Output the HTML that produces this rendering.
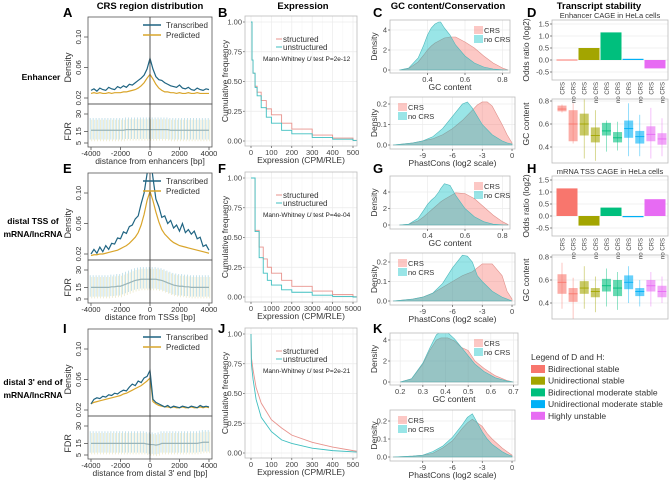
<!DOCTYPE html>
<html><head><meta charset="utf-8">
<style>
html,body{margin:0;padding:0;background:#fff;}
svg{display:block;font-family:"Liberation Sans",Arial,sans-serif;}
</style></head>
<body>
<svg id="fig" width="670" height="480" viewBox="0 0 670 480" xmlns="http://www.w3.org/2000/svg"></svg>
<script>
// ---------- data ----------
const distX = [-4000,-3800,-3600,-3400,-3200,-3000,-2800,-2600,-2400,-2200,-2000,-1800,-1600,-1400,-1200,-1000,-800,-600,-400,-200,0,200,400,600,800,1000,1200,1400,1600,1800,2000,2200,2400,2600,2800,3000,3200,3400,3600,3800,4000];
const A_trans = [0.030,0.032,0.029,0.033,0.031,0.030,0.034,0.032,0.031,0.035,0.033,0.036,0.034,0.038,0.037,0.040,0.043,0.046,0.050,0.058,0.072,0.058,0.048,0.044,0.043,0.040,0.038,0.036,0.035,0.034,0.037,0.033,0.032,0.034,0.031,0.030,0.033,0.031,0.030,0.032,0.031];
const A_pred = [0.026,0.027,0.026,0.027,0.026,0.026,0.027,0.026,0.027,0.027,0.027,0.028,0.028,0.029,0.030,0.031,0.033,0.036,0.040,0.046,0.051,0.045,0.038,0.033,0.030,0.028,0.028,0.027,0.027,0.026,0.027,0.026,0.026,0.027,0.026,0.026,0.027,0.026,0.026,0.026,0.026];
const E_trans = [0.020,0.026,0.021,0.029,0.023,0.031,0.026,0.034,0.033,0.041,0.040,0.049,0.047,0.056,0.058,0.066,0.070,0.086,0.100,0.125,0.150,0.120,0.092,0.082,0.068,0.070,0.060,0.064,0.054,0.058,0.050,0.060,0.048,0.052,0.046,0.050,0.040,0.042,0.030,0.032,0.025];
const E_pred = [0.018,0.019,0.019,0.020,0.020,0.021,0.022,0.023,0.024,0.025,0.027,0.029,0.031,0.034,0.038,0.042,0.048,0.058,0.072,0.090,0.102,0.090,0.075,0.062,0.052,0.046,0.042,0.038,0.035,0.033,0.031,0.030,0.029,0.028,0.027,0.026,0.025,0.024,0.023,0.022,0.021];
const I_trans = [0.028,0.034,0.036,0.035,0.038,0.037,0.040,0.039,0.042,0.041,0.044,0.046,0.045,0.050,0.054,0.052,0.058,0.056,0.062,0.064,0.072,0.034,0.030,0.028,0.026,0.024,0.026,0.023,0.025,0.024,0.023,0.025,0.024,0.023,0.025,0.024,0.023,0.026,0.024,0.025,0.024];
const I_pred = [0.028,0.030,0.031,0.032,0.033,0.034,0.035,0.036,0.037,0.038,0.039,0.041,0.042,0.044,0.046,0.048,0.050,0.052,0.055,0.058,0.062,0.031,0.028,0.026,0.025,0.024,0.024,0.023,0.024,0.023,0.023,0.024,0.023,0.023,0.024,0.023,0.023,0.024,0.023,0.024,0.023];
const A_fdr = [16,16,16,16,16,16,16,16,16,16,16,16,16.5,16.5,16.5,16.5,16.5,16.5,16.5,16.5,16.5,16.5,16.5,16.5,16.5,16.5,16.5,16,16,16,16,16,16,16,16,16,16,16,16,16,16];
const E_fdr = [15,15,15,15,15,15,15,15.5,15.5,16,16,17,18,19,20,21,21.5,22,22,22,22,22,22,21.5,21,20,19,18,17,16.5,16,16,15.5,15.5,15,15,15,15,15,15,15];
const I_fdr = [15,15,15,15,15,15,15,15,15,15,15,15,15,15,15,15,15,15,15,14.5,14,14,13.5,14,15,15,15,15,15,15,15,15,15,15,15,15,15,15.5,16,16,16];
const distTicks = [-4000,-2000,0,2000,4000];

const B_x = [0,5,10,20,30,50,75,100,150,200,300,400,500,520];
const B_unstr = [1.0,0.68,0.57,0.45,0.38,0.28,0.20,0.15,0.09,0.06,0.03,0.015,0.005,0.004];
const B_struc = [1.0,0.68,0.57,0.46,0.41,0.34,0.27,0.22,0.15,0.10,0.05,0.025,0.006,0.005];
const F_x = [0,200,400,600,800,1000,1500,2000,3000,4000,5000,5200];
const F_unstr = [1.0,0.55,0.33,0.20,0.14,0.10,0.06,0.04,0.015,0.005,0.0,0.0];
const F_struc = [1.0,0.56,0.42,0.32,0.25,0.20,0.14,0.09,0.05,0.02,0.003,0.0];
const J_x = [0,2,10,25,50,100,150,200,300,400,500,520];
const J_unstr = [1.0,0.75,0.62,0.45,0.30,0.18,0.11,0.08,0.04,0.02,0.01,0.008];
const J_struc = [1.0,0.80,0.70,0.55,0.42,0.28,0.21,0.15,0.09,0.05,0.02,0.015];

const gcX = [0.25,0.3,0.35,0.38,0.4,0.42,0.44,0.46,0.47,0.49,0.52,0.55,0.6,0.65,0.7,0.75,0.8,0.83];
const C_gc_nocrs = [0,0.2,1.2,2.5,3.5,4.2,4.6,4.8,4.8,4.2,3.5,2.5,1.4,0.7,0.3,0.1,0.02,0];
const C_gc_crs = [0,0.15,0.8,1.5,2.0,2.4,2.7,2.9,3.0,3.2,3.3,3.3,2.8,2.2,1.4,0.7,0.2,0];
const G_gc_nocrs = [0,0.1,0.8,1.8,2.5,3.0,3.4,4.0,4.4,5.0,4.8,3.6,2.0,1.0,0.4,0.1,0.02,0];
const G_gc_crs = [0,0.1,0.5,1.0,1.4,1.8,2.2,2.6,2.8,3.1,3.5,3.9,3.8,3.2,2.2,1.2,0.4,0.05];
const kX = [0.2,0.25,0.3,0.33,0.36,0.38,0.41,0.44,0.47,0.5,0.53,0.57,0.62,0.67,0.7];
const K_gc_nocrs = [0,0.3,1.8,3.2,4.5,4.8,4.7,4.1,3.3,2.5,1.7,1.0,0.4,0.1,0];
const K_gc_crs = [0,0.3,1.7,3.0,4.0,4.2,4.2,3.9,3.3,3.0,2.0,1.3,0.6,0.15,0];
const pcX = [-12,-10,-9,-8,-7,-6,-5,-4.5,-4,-3.5,-3,-2.5,-2,-1,-0.5,0];
const C_pc_nocrs = [0,0.01,0.02,0.04,0.08,0.14,0.20,0.21,0.18,0.14,0.10,0.075,0.05,0.02,0.01,0.005];
const C_pc_crs = [0,0.01,0.02,0.03,0.05,0.08,0.12,0.145,0.17,0.195,0.21,0.21,0.19,0.10,0.05,0.01];
const G_pc_nocrs = [0,0.01,0.02,0.04,0.09,0.17,0.235,0.23,0.20,0.13,0.10,0.075,0.05,0.02,0.01,0];
const G_pc_crs = [0,0.01,0.02,0.04,0.07,0.10,0.13,0.14,0.15,0.17,0.19,0.19,0.19,0.13,0.05,0.01];
const K_pc_nocrs = [0,0.005,0.01,0.03,0.06,0.11,0.18,0.22,0.24,0.19,0.14,0.10,0.07,0.03,0.015,0.005];
const K_pc_crs = [0,0.005,0.01,0.02,0.05,0.09,0.16,0.19,0.21,0.19,0.17,0.13,0.10,0.05,0.03,0.01];

const stabCats = ["Bidirectional stable","Unidirectional stable","Bidirectional moderate stable","Unidirectional moderate stable","Highly unstable"];
const stabColors = ["#F8766D","#A3A500","#00BF7D","#00B0F6","#E76BF3"];
const D_odds = [0.02,0.5,1.15,0.05,-0.35];
const H_odds = [1.15,-0.4,0.35,-0.05,0.7];
const boxLabels = ["CRS","no CRS","CRS","no CRS","CRS","no CRS","CRS","no CRS","CRS","no CRS"];
const D_med = [0.73,0.60,0.60,0.50,0.54,0.48,0.56,0.49,0.51,0.47];
const D_q1 = [0.71,0.45,0.50,0.44,0.50,0.44,0.48,0.43,0.45,0.42];
const D_q3 = [0.76,0.72,0.69,0.57,0.61,0.53,0.63,0.54,0.58,0.52];
const D_lo = [0.70,0.43,0.30,0.28,0.36,0.37,0.32,0.32,0.30,0.32];
const D_hi = [0.77,0.78,0.82,0.72,0.63,0.62,0.78,0.68,0.74,0.65];
const H_med = [0.58,0.48,0.53,0.50,0.55,0.53,0.58,0.50,0.55,0.50];
const H_q1 = [0.48,0.41,0.48,0.45,0.50,0.46,0.52,0.46,0.50,0.45];
const H_q3 = [0.65,0.53,0.59,0.53,0.61,0.60,0.64,0.53,0.60,0.55];
const H_lo = [0.35,0.25,0.35,0.32,0.37,0.34,0.40,0.37,0.37,0.40];
const H_hi = [0.75,0.62,0.72,0.63,0.70,0.67,0.72,0.60,0.67,0.63];

// ---------- helpers ----------
const NS = "http://www.w3.org/2000/svg";
const fig = document.getElementById("fig");
function mk(tag, attrs, parent){
  const e = document.createElementNS(NS, tag);
  for (const k in attrs) e.setAttribute(k, attrs[k]);
  (parent || fig).appendChild(e);
  return e;
}
function txt(s, x, y, size, opts, name){
  opts = opts || {};
  const a = {x:x, y:y, "font-size":size, fill:opts.fill||"#000"};
  if (opts.anchor) a["text-anchor"] = opts.anchor;
  if (opts.bold) a["font-weight"] = "bold";
  if (opts.rot) a.transform = "rotate(-90 " + x + " " + y + ")";
  const t = mk("text", a, opts.parent);
  t.textContent = s;
  
  
  return t;
}
function line(x1,y1,x2,y2,stroke,w,name,parent){
  const l = mk("line",{x1:x1,y1:y1,x2:x2,y2:y2,stroke:stroke,"stroke-width":w||1},parent);
  
  
  return l;
}
function rect(x,y,w,h,fill,stroke,name,parent,extra){
  const a = {x:x,y:y,width:w,height:h,fill:fill||"none"};
  if (stroke) { a.stroke = stroke; a["stroke-width"] = 0.8; }
  if (extra) for (const k in extra) a[k] = extra[k];
  const r = mk("rect", a, parent);
  
  
  return r;
}
function lin(d0,d1,r0,r1){ return v => r0 + (v-d0)*(r1-r0)/(d1-d0); }
let clipN = 0;
function clipGroup(x,y,w,h){
  const id = "c" + (clipN++);
  const cp = mk("clipPath",{id:id});
  mk("rect",{x:x,y:y,width:w,height:h},cp);
  return mk("g",{"clip-path":"url(#"+id+")"});
}

// ---------- titles / row labels ----------
txt("CRS region distribution",150,9,9.5,{anchor:"middle",bold:true},"column-title-crs");
txt("Expression",303,9,9.5,{anchor:"middle",bold:true},"column-title-expression");
txt("GC content/Conservation",448,9,9.5,{anchor:"middle",bold:true},"column-title-gc");
txt("Transcript stability",599,9,9.5,{anchor:"middle",bold:true},"column-title-stability");
txt("Enhancer",41,80,8.5,{anchor:"middle",bold:true},"row-label-enhancer");
txt("distal TSS of",33,224,8.5,{anchor:"middle",bold:true},"row-label-tss");
txt("mRNA/lncRNA",33,237,8.5,{anchor:"middle",bold:true},"row-label-tss-2");
txt("distal 3' end of",33,385,8.5,{anchor:"middle",bold:true},"row-label-3end");
txt("mRNA/lncRNA",33,398,8.5,{anchor:"middle",bold:true},"row-label-3end-2");
[["A",63,17],["B",218,17],["C",373,17],["D",527,17],["E",63,173],["F",218,173],["G",373,173],["H",527,173],["I",63,333],["J",218,333],["K",373,333]].forEach(p=>{
  txt(p[0],p[1],p[2],13,{bold:true},"panel-letter-"+p[0].toLowerCase());
});

// ---------- density/FDR panels (A,E,I) ----------
function distPanel(oy, trans, pred, fdr, xtitle){
  const x0=88, x1=212, yt=17+oy, ym=104+oy, yb=147+oy;
  const xs = lin(-4000,4000,91,209);
  const yD = lin(0.02,0.10,98+oy,37+oy);
  const yF = lin(5,30,143+oy,114+oy);
  const gF = clipGroup(x0,ym,x1-x0,yb-ym);
  distX.forEach((d,i)=>{
    line(xs(d)-0.8,yF(fdr[i]+10.5),xs(d)-0.8,yF(fdr[i]-8),"#b7dbe6",0.8,"fdr-errorbar",gF);
    line(xs(d)+0.8,yF(fdr[i]+9),xs(d)+0.8,yF(fdr[i]-9.5),"#e6e2b8",0.6,"fdr-errorbar-predicted",gF);
  });
  const fp = mk("polyline",{points:distX.map((d,i)=>xs(d)+","+yF(fdr[i])).join(" "),fill:"none",stroke:"#9bb5b8","stroke-width":1.2},gF);
  
  
  const gD = clipGroup(x0,yt,x1-x0,ym-yt);
  const pp = mk("polyline",{points:distX.map((d,i)=>xs(d)+","+yD(pred[i])).join(" "),fill:"none",stroke:"#d9a52b","stroke-width":1.2},gD);
  
  
  const tp = mk("polyline",{points:distX.map((d,i)=>xs(d)+","+yD(trans[i])).join(" "),fill:"none",stroke:"#1f6482","stroke-width":1.2},gD);
  
  
  rect(x0,yt,x1-x0,ym-yt,"none","#555","density-frame");
  rect(x0,ym,x1-x0,yb-ym,"none","#555","fdr-frame");
  line(xs(0),yt,xs(0),yb,"#444",0.9,"zero-line");
  [0.02,0.06,0.10].forEach(v=>{
    line(84,yD(v),x0,yD(v),"#555",0.8,"y-tick");
    txt(v.toFixed(2),81,yD(v),7.5,{anchor:"middle",rot:true,fill:"#333"},"y-tick-label");
  });
  txt("Density",71,yD(0.06),9,{anchor:"middle",rot:true,fill:"#333"},"y-axis-title-density");
  [5,15,30].forEach(v=>{
    line(84,yF(v),x0,yF(v),"#555",0.8,"y-tick");
    txt(String(v),81,yF(v),7.5,{anchor:"middle",rot:true,fill:"#333"},"fdr-tick-label");
  });
  txt("FDR",71,yF(15),9,{anchor:"middle",rot:true,fill:"#333"},"y-axis-title-fdr");
  distTicks.forEach(v=>{
    line(xs(v),yb,xs(v),yb+3,"#555",0.8,"x-tick");
    txt(String(v),xs(v),yb+9,7.5,{anchor:"middle",fill:"#333"},"x-tick-label");
  });
  txt(xtitle,150,yb+17,8.5,{anchor:"middle",fill:"#333"},"x-axis-title");
  line(143,yt+8,161,yt+8,"#1f6482",1.5,"legend-transcribed-line");
  txt("Transcribed",166,yt+11,8,{fill:"#333"},"legend-transcribed");
  line(143,yt+18,161,yt+18,"#d9a52b",1.5,"legend-predicted-line");
  txt("Predicted",166,yt+21,8,{fill:"#333"},"legend-predicted");
}
distPanel(0,A_trans,A_pred,A_fdr,"distance from enhancers [bp]");
distPanel(156,E_trans,E_pred,E_fdr,"distance from TSSs [bp]");
distPanel(312,I_trans,I_pred,I_fdr,"distance from distal 3' end [bp]");

// ---------- cumulative panels (B,F,J) ----------
function cdfPanel(oy, xmax, ticks, xv, unstr, struc, step, pval){
  const x0=245, x1=357, yt=16+oy, yb=146+oy;
  const xs = lin(0,xmax,251,353);
  const ys = lin(0,1,141+oy,22+oy);
  rect(x0,yt,x1-x0,yb-yt,"#fff",null,"plot-background");
  ticks.forEach((v,i)=>{
    line(xs(v),yt,xs(v),yb,"#ebebeb",0.7,"grid-x");
    if (i<ticks.length-1) line(xs(v+(ticks[1]-ticks[0])/2),yt,xs(v+(ticks[1]-ticks[0])/2),yb,"#f4f4f4",0.5,"grid-x-minor");
  });
  [0,0.25,0.5,0.75,1].forEach(v=>{
    line(x0,ys(v),x1,ys(v),"#ebebeb",0.7,"grid-y");
    line(x0-2,ys(v),x0,ys(v),"#555",0.7,"y-tick");
    txt(v.toFixed(2),x0-3,ys(v)+2.5,7.5,{anchor:"end",fill:"#444"},"y-tick-label");
  });
  const g = clipGroup(x0,yt,x1-x0,yb-yt);
  function pts(arr){
    let p = [];
    xv.forEach((x,i)=>{
      if (step && i>0) p.push(xs(x)+","+ys(arr[i-1]));
      p.push(xs(x)+","+ys(arr[i]));
    });
    return p.join(" ");
  }
  const ps = mk("polyline",{points:pts(struc),fill:"none",stroke:"#e8938d","stroke-width":0.9},g);
  
  
  const pu = mk("polyline",{points:pts(unstr),fill:"none",stroke:"#3fbfc0","stroke-width":0.9},g);
  
  
  rect(x0,yt,x1-x0,yb-yt,"none","#bbb","plot-frame");
  ticks.forEach(v=>{
    line(xs(v),yb,xs(v),yb+2,"#555",0.7,"x-tick");
    txt(String(v),xs(v),yb+9,7.5,{anchor:"middle",fill:"#444"},"x-tick-label");
  });
  txt("Expression (CPM/RLE)",301,yb+17,8.5,{anchor:"middle",fill:"#333"},"x-axis-title");
  txt("Cumulative frequency",228,81+oy,8.5,{anchor:"middle",rot:true,fill:"#333"},"y-axis-title");
  line(276,39+oy,282,39+oy,"#e8938d",1,"legend-structured-line");
  txt("structured",283,42+oy,8,{fill:"#333"},"legend-structured");
  line(276,47+oy,282,47+oy,"#3fbfc0",1,"legend-unstructured-line");
  txt("unstructured",283,50+oy,8,{fill:"#333"},"legend-unstructured");
  const t = txt("Mann-Whitney ",263,61+oy,6.5,{fill:"#222"},"mann-whitney-label");
  const ts = mk("tspan",{"font-style":"italic"},t); ts.textContent="U";
  
  
  const ts2 = mk("tspan",{},t); ts2.textContent=" test P="+pval;
  
  
}
cdfPanel(0,500,[0,100,200,300,400,500],B_x,B_unstr,B_struc,true,"2e-12");
cdfPanel(156,5000,[0,1000,2000,3000,4000,5000],F_x,F_unstr,F_struc,true,"4e-04");
cdfPanel(312,500,[0,100,200,300,400,500],J_x,J_unstr,J_struc,false,"2e-21");

// ---------- density panels (C,G,K) ----------
function densPanel(x0,x1,yt,yb,xd0,xd1,yzero,yscale,xv,crs,nocrs,xticks,yticks,ydec,xlabel,legendRight,tickFmt){
  const xs = lin(xd0,xd1,x0,x1);
  const ys = v => yzero - v*yscale;
  rect(x0,yt,x1-x0,yb-yt,"#fff",null,"plot-background");
  xticks.forEach(v=>line(xs(v),yt,xs(v),yb,"#ebebeb",0.7,"grid-x"));
  yticks.forEach(v=>line(x0,ys(v),x1,ys(v),"#ebebeb",0.7,"grid-y"));
  const g = clipGroup(x0,yt,x1-x0,yb-yt);
  function poly(arr,fill,stroke,name){
    const p = xv.map((x,i)=>xs(x)+","+ys(arr[i]));
    p.push(xs(xv[xv.length-1])+","+ys(0)); p.unshift(xs(xv[0])+","+ys(0));
    const e = mk("polygon",{points:p.join(" "),fill:fill,"fill-opacity":0.4,stroke:stroke,"stroke-width":0.6},g);
    
    
  }
  poly(crs,"#F8766D","#e0908a","density-crs");
  poly(nocrs,"#00BFC4","#4fb8bb","density-no-crs");
  rect(x0,yt,x1-x0,yb-yt,"none","#bbb","plot-frame");
  yticks.forEach(v=>{
    line(x0-2,ys(v),x0,ys(v),"#555",0.7,"y-tick");
    txt(v.toFixed(ydec),x0-3,ys(v)+2.5,7.5,{anchor:"end",fill:"#444"},"y-tick-label");
  });
  xticks.forEach(v=>{
    line(xs(v),yb,xs(v),yb+2,"#555",0.7,"x-tick");
    txt(tickFmt(v),xs(v),yb+9,7.5,{anchor:"middle",fill:"#444"},"x-tick-label");
  });
  txt(xlabel,(x0+x1)/2,yb+17,8.5,{anchor:"middle",fill:"#333"},"x-axis-title");
  txt("Density",x0-13,(yt+yb)/2,8.5,{anchor:"middle",rot:true,fill:"#333"},"y-axis-title");
  const lx = legendRight ? 474 : 398, ly = yt+6;
  rect(lx,ly,9,8,"#F8766D",null,"legend-swatch-crs",null,{"fill-opacity":0.4});
  rect(lx,ly+9,9,8,"#00BFC4",null,"legend-swatch-no-crs",null,{"fill-opacity":0.4});
  txt("CRS",lx+10,ly+7,7.5,{fill:"#333"},"legend-crs");
  txt("no CRS",lx+10,ly+16,7.5,{fill:"#333"},"legend-no-crs");
}
const f1 = v => v.toFixed(1), f0 = v => String(v);
densPanel(390,510,20,73,0.2,0.84,70,10,gcX,C_gc_crs,C_gc_nocrs,[0.4,0.6,0.8],[0,2,4],0,"GC content",true,f1);
densPanel(390,515,97,149,-12.3,0.3,145,205,pcX,C_pc_crs,C_pc_nocrs,[-9,-6,-3,0],[0,0.1,0.2],1,"PhastCons (log2 scale)",false,f0);
densPanel(390,510,176,229,0.2,0.84,225,8.25,gcX,G_gc_crs,G_gc_nocrs,[0.4,0.6,0.8],[0,2,4],0,"GC content",true,f1);
densPanel(390,515,253,305,-12.3,0.3,301,195,pcX,G_pc_crs,G_pc_nocrs,[-9,-6,-3,0],[0,0.1,0.2],1,"PhastCons (log2 scale)",false,f0);
densPanel(390,518,333,385,0.155,0.72,382,10.5,kX,K_gc_crs,K_gc_nocrs,[0.2,0.3,0.4,0.5,0.6,0.7],[0,2,4],0,"GC content",true,f1);
densPanel(390,515,410,461,-12.3,0.3,457,180,pcX,K_pc_crs,K_pc_nocrs,[-9,-6,-3,0],[0,0.1,0.2],1,"PhastCons (log2 scale)",false,f0);

// ---------- stability panels (D,H) ----------
function stabPanel(oy, subtitle, odds, med, q1, q3, lo, hi){
  const x0=552, x1=668;
  const yt=20+oy, yb=80+oy;
  const yO = lin(0,1.5,60+oy,24+oy);
  rect(x0,yt,x1-x0,yb-yt,"#fff",null,"bar-background");
  [-0.5,0,0.5,1,1.5].forEach(v=>line(x0,yO(v),x1,yO(v),"#ebebeb",0.7,"grid-y"));
  const bx = lin(0,4,567,655);
  odds.forEach((v,i)=>{
    const y1 = Math.min(yO(v),yO(0)), h = Math.max(Math.abs(yO(v)-yO(0)),1);
    rect(bx(i)-10.5,y1,21,h,stabColors[i],null,"bar-"+(i+1));
  });
  rect(x0,yt,x1-x0,yb-yt,"none","#bbb","bar-frame");
  [-0.5,0,0.5,1,1.5].forEach(v=>{
    line(x0-2,yO(v),x0,yO(v),"#555",0.7,"y-tick");
    txt(v.toFixed(1),x0-3,yO(v)+2.5,7.5,{anchor:"end",fill:"#444"},"y-tick-label");
  });
  txt("Odds ratio (log2)",529,50+oy,8.5,{anchor:"middle",rot:true,fill:"#333"},"y-axis-title-odds");
  txt(subtitle,610,18+oy,7.5,{anchor:"middle",fill:"#333"},"subplot-title");
  // box plot
  const bt=99+oy, bb=163+oy;
  const yG = lin(0.4,0.8,147+oy,101+oy);
  rect(x0,bt,x1-x0,bb-bt,"#fff",null,"box-background");
  [0.4,0.6,0.8].forEach(v=>line(x0,yG(v),x1,yG(v),"#ebebeb",0.7,"grid-y"));
  const lx = lin(0,9,562,662);
  const g = clipGroup(x0,bt,x1-x0,bb-bt);
  med.forEach((m,i)=>{
    const c = stabColors[Math.floor(i/2)], cx = lx(i);
    line(cx,yG(hi[i]),cx,yG(lo[i]),c,0.7,"box-whisker",g).setAttribute("stroke-opacity",0.6);
    rect(cx-4.5,yG(q3[i]),9,yG(q1[i])-yG(q3[i]),c,null,"box-"+(i+1),g,{"fill-opacity":0.6});
    line(cx-4.5,yG(m),cx+4.5,yG(m),c,0.9,"box-median",g);
  });
  rect(x0,bt,x1-x0,bb-bt,"none","#bbb","box-frame");
  [0.4,0.6,0.8].forEach(v=>{
    line(x0-2,yG(v),x0,yG(v),"#555",0.7,"y-tick");
    txt(v.toFixed(1),x0-3,yG(v)+2.5,7.5,{anchor:"end",fill:"#444"},"y-tick-label");
  });
  txt("GC content",529,124+oy,8.5,{anchor:"middle",rot:true,fill:"#333"},"y-axis-title-gc");
  boxLabels.forEach((s,i)=>{
    txt(s,lx(i)+2.5,82+oy,6,{anchor:"end",rot:true,fill:"#444"},"category-label");
  });
}
stabPanel(0,"Enhancer CAGE in HeLa cells",D_odds,D_med,D_q1,D_q3,D_lo,D_hi);
stabPanel(156,"mRNA TSS CAGE in HeLa cells",H_odds,H_med,H_q1,H_q3,H_lo,H_hi);

// ---------- legend ----------
txt("Legend of D and H:",531,360,8.5,{fill:"#333"},"legend-title");
stabCats.forEach((s,i)=>{
  rect(531,365+i*11.7,14,8,stabColors[i],null,"legend-swatch-"+(i+1));
  txt(s,548,372+i*11.7,8.5,{fill:"#333"},"legend-entry-"+(i+1));
});
</script>
</body></html>
